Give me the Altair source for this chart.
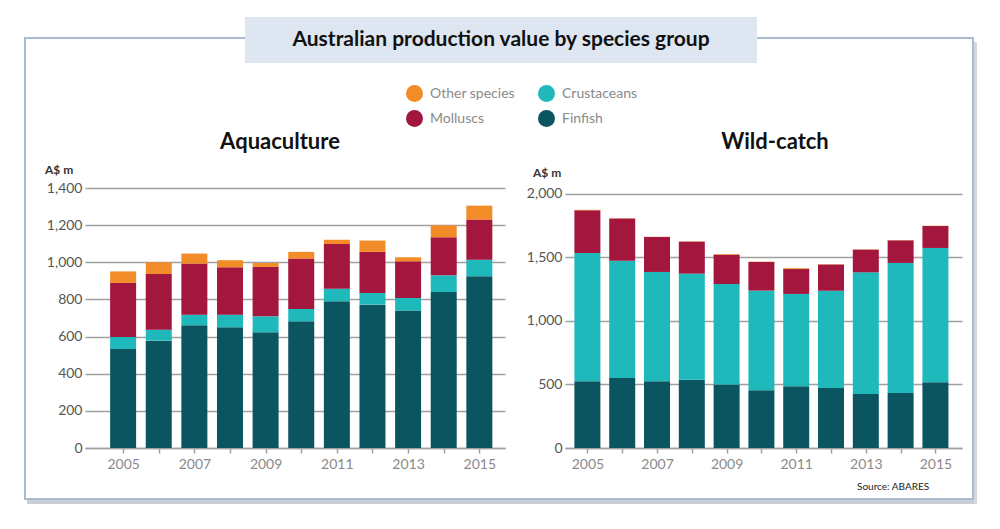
import altair as alt
import pandas as pd

years = list(range(2005, 2016))
species = ["Finfish", "Crustaceans", "Molluscs", "Other species"]
legend_order = ["Other species", "Molluscs", "Crustaceans", "Finfish"]
colors = ["#f28c28", "#a3163d", "#1fb8bb", "#0b5561"]

aqua_finfish = [533, 578, 661, 650, 623, 682, 790, 772, 740, 840, 925]
aqua_crustaceans = [65, 59, 57, 68, 86, 67, 68, 63, 68, 90, 89]
aqua_molluscs = [291, 300, 275, 255, 266, 271, 241, 221, 197, 205, 216]
aqua_other = [62, 63, 54, 38, 21, 36, 23, 61, 22, 64, 75]

wild_finfish = [525, 551, 525, 538, 499, 454, 486, 472, 425, 433, 517]
wild_crustaceans = [1010, 924, 861, 835, 792, 785, 727, 767, 958, 1024, 1058]
wild_molluscs = [336, 331, 275, 252, 231, 226, 196, 205, 179, 178, 173]
wild_other = [4, 2, 2, 2, 5, 2, 6, 2, 2, 2, 2]

FONT = "Lato"


def long_df(series_list):
    rows = []
    for i, (sp, vals) in enumerate(zip(species, series_list)):
        for yr, v in zip(years, vals):
            rows.append({"year": yr, "species": sp, "value": v, "ord": i})
    return pd.DataFrame(rows)


aqua_df = long_df([aqua_finfish, aqua_crustaceans, aqua_molluscs, aqua_other])
wild_df = long_df([wild_finfish, wild_crustaceans, wild_molluscs, wild_other])


def rect(x, x2, y, y2, **kw):
    return alt.Chart(pd.DataFrame({"k": [0]})).mark_rect(**kw).encode(
        x=alt.value(x), x2=alt.value(x2), y=alt.value(y), y2=alt.value(y2))


def text(t, x, y, **kw):
    return alt.Chart(pd.DataFrame({"t": [t]})).mark_text(**kw).encode(
        text="t:N", x=alt.value(x), y=alt.value(y))


legend = alt.Legend(orient="none", legendX=321, legendY=-103, columns=2,
                    symbolType="circle", symbolSize=289, symbolStrokeWidth=0,
                    labelFont=FONT, labelFontSize=14, labelColor="#8a8a8a",
                    columnPadding=23, rowPadding=8, labelOffset=7, title=None)
color = alt.Color("species:N", scale=alt.Scale(domain=legend_order, range=colors),
                  legend=legend)

xaxis = alt.Axis(values=years, format="d",
                 labelExpr="datum.value % 2 == 1 ? datum.label : ''",
                 title=None, grid=False, domainColor="#a0a0a0", domainWidth=1.5,
                 tickColor="#a0a0a0", tickSize=5, tickWidth=1.5, labelPadding=4,
                 labelFont=FONT, labelFontSize=14, labelColor="#8a8a8a")


def yaxis(vals):
    return alt.Axis(values=vals, format=",.0f", title=None, grid=True,
                    gridColor="#a0a0a0", gridWidth=1.5, domain=False, ticks=False,
                    labelPadding=3, labelFont=FONT, labelFontSize=14,
                    labelColor="#555555")


def bars(df, xdom, ydom, yvals):
    return alt.Chart(df).mark_bar(size=26).encode(
        x=alt.X("year:Q", scale=alt.Scale(domain=xdom, nice=False, zero=False), axis=xaxis),
        y=alt.Y("value:Q", stack="zero", scale=alt.Scale(domain=ydom, nice=False),
                axis=yaxis(yvals)),
        color=color,
        order=alt.Order("ord:Q", sort="ascending"),
    )


left = alt.layer(
    rect(-58, 891, 312, 316, fill="#c9cdd8"),
    rect(889, 892, -146, 316, fill="#d3d7e0"),
    rect(-60, 888, -150, 311, fill="transparent", stroke="#a9bbcf", strokeWidth=2),
    rect(160, 672, -171, -125, fill="#dde6f1"),
    text("Australian production value by species group", 416, -148,
         font=FONT, fontSize=21, fontWeight="bold", color="#111111",
         align="center", baseline="middle"),
    text("Aquaculture", 195, -46, font=FONT, fontSize=22, fontWeight="bold",
         color="#111111", align="center", baseline="middle"),
    text("A$ m", -40, -18, font=FONT, fontSize=12, fontWeight="bold",
         color="#333333", align="left", baseline="middle"),
    bars(aqua_df, [2004.07, 2015.58], [0, 1400], list(range(0, 1401, 200))),
).properties(width=420, height=260)

right = alt.layer(
    text("Wild-catch", 210, -46, font=FONT, fontSize=22, fontWeight="bold",
         color="#111111", align="center", baseline="middle"),
    text("A$ m", -32, -15, font=FONT, fontSize=12, fontWeight="bold",
         color="#333333", align="left", baseline="middle"),
    text("Source: ABARES", 292, 299, font=FONT, fontSize=10,
         color="#222222", align="left", baseline="middle"),
    bars(wild_df, [2004.5, 2015.62], [0, 2047], list(range(0, 2001, 500))),
).properties(width=397, height=260)

chart = alt.hconcat(left, right, spacing=60, bounds="flush").resolve_scale(
    x="independent", y="independent", color="shared"
).properties(
    padding={"left": 16, "top": 9, "right": 5, "bottom": 5}
).configure_view(strokeWidth=0)

chart.save("out.html", embed_options={"renderer": "svg", "actions": False})
